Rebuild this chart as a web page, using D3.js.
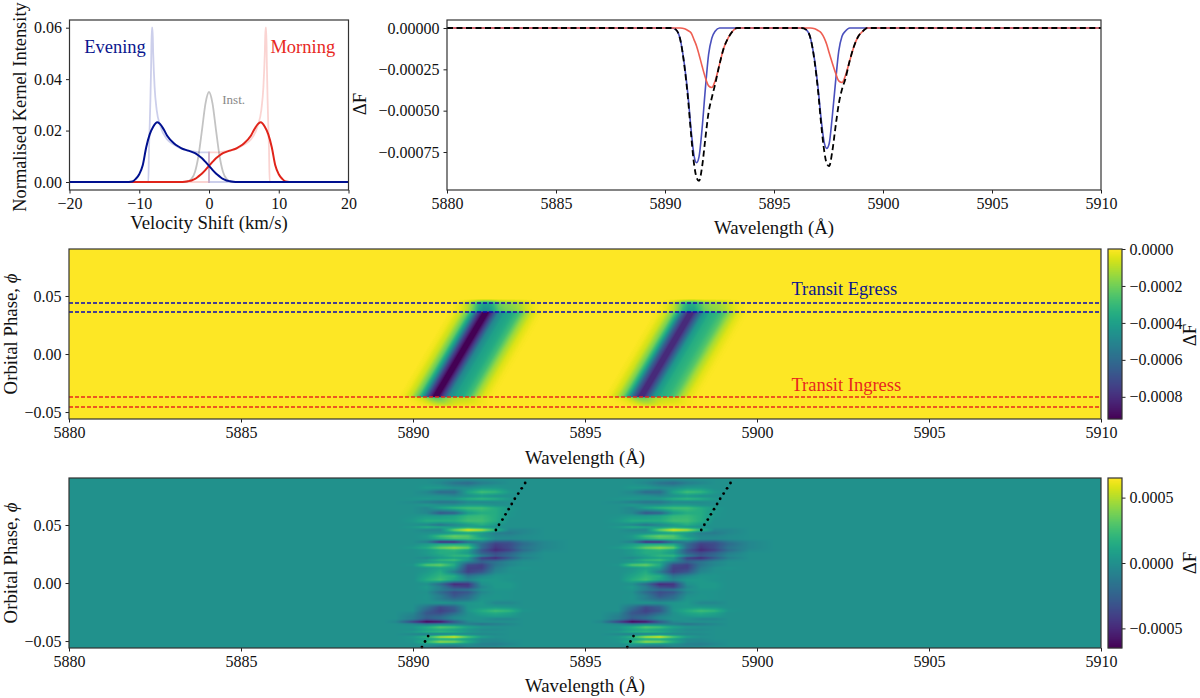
<!DOCTYPE html>
<html>
<head>
<meta charset="utf-8">
<script src="https://d3js.org/d3.v7.min.js"></script>
<style>
  html, body { margin: 0; padding: 0; background: #fff; }
  svg { display: block; font-family: "Liberation Serif", serif; }
  .tick text { font-family: "Liberation Serif", serif; font-size: 16px; fill: #111; }
  .tick line { stroke: #222; }
  .frame { fill: none; stroke: #333; stroke-width: 1.2; }
  .label { font-size: 18.8px; fill: #111; }
</style>
</head>
<body>
<div id="chart"></div>
<script>
// kernel panel
const inst_v = [-20, -3.5, -3, -2.5, -2, -1.5, -1, -0.5, 0, 0.5, 1, 1.5, 2, 2.5, 3, 3.5, 20];
const inst_i = [0, 0, 0.0003, 0.0012, 0.004, 0.0103, 0.0203, 0.0306, 0.035, 0.0306, 0.0203, 0.0103, 0.004, 0.0012, 0.0003, 0, 0];
const evening_kernel_v = [-20, -8.7, -8.6, -8.5, -8.4, -8.3, -8.2, -8.1, -8, -7.8, -7.5, -7, -6, -5, -4, -3, -2, -1, 0, 0, 20];
const evening_kernel_i = [0, 0, 0.013, 0.022, 0.032, 0.045, 0.06, 0.06, 0.05, 0.037, 0.028, 0.022, 0.0165, 0.0145, 0.013, 0.0123, 0.0118, 0.0115, 0.0115, 0, 0];
const morning_kernel_v = [-20, 0, 0, 1, 2, 3, 4, 5, 6, 7, 7.5, 7.8, 8, 8.1, 8.2, 8.3, 8.4, 8.5, 8.6, 8.7, 20];
const morning_kernel_i = [0, 0, 0.0115, 0.0115, 0.0118, 0.0123, 0.013, 0.0145, 0.0165, 0.022, 0.028, 0.037, 0.05, 0.06, 0.06, 0.045, 0.032, 0.022, 0.013, 0, 0];
const evening_v = [-20, -12, -11, -10.5, -10, -9.5, -9, -8.5, -8, -7.4, -7, -6.5, -6, -5, -4.5, -4, -3, -2, -1.5, -1, -0.5, 0, 0.5, 1, 1.5, 2, 2.5, 3, 3.5, 4, 20];
const evening_i = [0, 0, 0.0002, 0.0012, 0.003, 0.0065, 0.0135, 0.0185, 0.0215, 0.0232, 0.0225, 0.0205, 0.018, 0.015, 0.014, 0.0132, 0.0122, 0.0112, 0.0103, 0.0092, 0.0078, 0.0063, 0.0047, 0.0033, 0.0022, 0.0012, 0.0006, 0.0003, 0.0001, 0, 0];
const morning_v = [-20, -4, -3.5, -3, -2.5, -2, -1.5, -1, -0.5, 0, 0.5, 1, 1.5, 2, 3, 4, 4.5, 5, 6, 6.5, 7, 7.4, 8, 8.5, 9, 9.5, 10, 10.5, 11, 12, 20];
const morning_i = [0, 0, 0.0001, 0.0003, 0.0006, 0.0012, 0.0022, 0.0033, 0.0047, 0.0063, 0.0078, 0.0092, 0.0103, 0.0112, 0.0122, 0.0132, 0.014, 0.015, 0.018, 0.0205, 0.0225, 0.0232, 0.0215, 0.0185, 0.0135, 0.0065, 0.003, 0.0012, 0.0002, 0, 0];

// line profile panel
const wave = [5880, 5890.3, 5890.5, 5890.7, 5890.9, 5891.05, 5891.2, 5891.33, 5891.45, 5891.56, 5891.7, 5891.85, 5892, 5892.15, 5892.3, 5892.5, 5892.7, 5892.9, 5893.1, 5893.3,
  5896.27, 5896.47, 5896.67, 5896.87, 5897.02, 5897.17, 5897.3, 5897.42, 5897.53, 5897.67, 5897.82, 5897.97, 5898.12, 5898.27, 5898.47, 5898.67, 5898.87, 5899.07, 5899.27, 5910];
const flux_evening = [0, 0, -0.00001, -0.00007, -0.00023, -0.0004, -0.00062, -0.00077, -0.000815, -0.00078, -0.00061, -0.00037, -0.00016, -0.00006, -0.00002, 0, 0, 0, 0, 0,
  0, -0.00001, -0.00006, -0.0002, -0.00036, -0.00056, -0.00069, -0.000728, -0.0007, -0.00054, -0.00033, -0.00014, -0.00005, -0.00002, 0, 0, 0, 0, 0, 0];
const flux_morning = [0, 0, 0, 0, -0.000005, -0.000015, -0.00003, -0.00007, -0.00011, -0.00016, -0.00023, -0.0003, -0.00035, -0.00036, -0.00032, -0.00022, -0.00012, -0.00006, -0.00002, 0,
  0, 0, 0, -0.000005, -0.000015, -0.00003, -0.00006, -0.0001, -0.00015, -0.00021, -0.00027, -0.00032, -0.00033, -0.00029, -0.0002, -0.00011, -0.00005, -0.00002, 0, 0];
const flux_total = [0, 0, -0.00001, -0.00007, -0.00024, -0.00042, -0.00065, -0.00082, -0.000905, -0.000925, -0.00084, -0.00067, -0.00051, -0.00042, -0.00034, -0.00022, -0.00012, -0.00006, -0.00002, 0,
  0, -0.00001, -0.00006, -0.00021, -0.00038, -0.00059, -0.00074, -0.00082, -0.000835, -0.00075, -0.0006, -0.00046, -0.00037, -0.00031, -0.0002, -0.00011, -0.00005, -0.00002, 0, 0];

// model map: row profile around the moving line centre
const profile_offset = [-1.1, -0.9, -0.7, -0.5, -0.35, -0.2, -0.05, 0.1, 0.25, 0.4, 0.6, 0.8, 1, 1.2, 1.4, 1.6, 1.8];
const profile_flux = [0, -0.00002, -0.00008, -0.00022, -0.00042, -0.00072, -0.00092, -0.00092, -0.00072, -0.0005, -0.0004, -0.00036, -0.00028, -0.00014, -0.00005, -0.00001, 0];
const track_phase = [-0.046, -0.0365, 0.036, 0.048];
const track_d1 = [5890.9, 5890.64, 5892.09, 5892.1];
const track_d2 = [5896.87, 5896.61, 5898.06, 5898.07];
const d2_strength = 0.88;
const depth_phase = [-0.056, -0.0462, -0.044, -0.0376, -0.0368, 0.0362, 0.0372, 0.0435, 0.0475, 0.09];
const depth_scale = [0, 0, 0.08, 0.25, 1, 1, 0.5, 0.42, 0, 0];
const egress_phase = [0.044, 0.0362];
const ingress_phase = [-0.0371, -0.0457];

// residual map, values in units of 1e-4, D2 repeats the D1 pattern
const residual_wave = [5889.5, 5890, 5890.4, 5890.8, 5891.2, 5891.6, 5892, 5892.4, 5892.8, 5893.2, 5893.8];
const d2_shift = 5.97;
const residual_phase = [0.0897, 0.0862, 0.0819, 0.0784, 0.075, 0.0724, 0.0698, 0.0672, 0.0647, 0.0603, 0.0578, 0.0534, 0.05, 0.0483, 0.0457, 0.0431, 0.0405, 0.0379, 0.0353, 0.0336,
  0.0302, 0.0284, 0.0259, 0.0233, 0.0216, 0.0198, 0.0181, 0.0155, 0.0129, 0.0095, 0.006, 0.0026, -0.0009, -0.0034, -0.006, -0.0078, -0.0112, -0.0138, -0.0172, -0.0207,
  -0.0241, -0.0259, -0.0293, -0.031, -0.0336, -0.0353, -0.0379, -0.0405, -0.0422, -0.044, -0.0465, -0.0483, -0.0509, -0.0526, -0.0552];
const residual_rows = [
  [0, 0, 0, 0, 0, 0, 0, 0, 0, 0, 0],
  [0, 0, 0, -0.5, -1.5, -2, -1, -0.5, 0, 0, 0],
  [0, 0, 0.5, 0.5, 0, 0, 0.5, 0.5, 0, 0, 0],
  [0, 0, -0.5, -2, -2, 1, 2.5, 2, 0.5, 0, 0],
  [0, 0, 0, 0, -0.5, 0, 0.5, 0, 0, 0, 0],
  [0, 0.3, 0.5, 0.3, 0.5, 1.5, 2, 1.5, 0.5, 0, 0],
  [0, -0.3, -1, -1.5, -1.5, -0.5, -0.5, -0.3, 0, 0, 0],
  [0, 0, 0.5, 0, 0, 0.5, 0.5, 0, 0, 0, 0],
  [0, 0, -0.5, 1, 2, 2.5, 2.5, 1.5, 0.5, 0, 0],
  [0, 0, -0.5, -3, -2.5, 0.5, 1.5, 1.5, 0.3, 0, 0],
  [0, 0.2, 0.5, 0.5, 1, 2, 2.2, 1.5, 0.3, 0, 0],
  [0, 0.5, 1.5, 1.5, 1.5, 2.5, 2.5, 1.5, 0, 0, 0],
  [0, 0, -0.5, -1.5, -0.5, 0.5, 1.5, 0.5, 0, 0, 0],
  [0, 0.5, 1.5, 1, 0.5, 1, 0.5, 0, 0, 0, 0],
  [0, 0, -0.5, -0.5, 3.5, 6, 5, 2, -0.5, -0.5, 0],
  [0, 0, 0, 0, 0.5, 1, 0.5, -1, -1.2, -0.5, 0],
  [0, 0, 0.5, 2.5, 3.5, 3, 0.5, -0.5, -0.5, -0.2, 0],
  [0, 0, 0.3, 1.5, 2.5, 2.5, 1.5, -0.2, -0.3, -0.2, 0],
  [0, 0, -1, -5, -5, -2, -1, -3, -3, -1.5, -0.5],
  [0, 0, 0.5, 1, 1, 1, -2, -4, -3.5, -2, -0.5],
  [0, 0.5, 1.5, 3.5, 4.5, 3.5, -2, -4.5, -3.5, -1.5, -0.5],
  [0, 0, 0.5, 1.5, 2, 1, -3, -5, -4, -2, -0.3],
  [0, 0, 0.5, 1.5, 1.5, 0.5, -2.5, -3.5, -2.5, -1, 0],
  [0, 0, 0.3, 1, 2, 2, -1, -3, -2, -0.5, 0],
  [0, 0, -0.5, 0.5, 1, 0.5, -4, -5, -3, -1, 0],
  [0, 0, 0.5, 2, 2.5, 0.5, -3, -3, -1.5, -0.3, 0],
  [0, 0, 0.3, 1, 1, -1, -2.5, -1.5, -0.5, 0, 0],
  [0, 0.3, 3, 3.5, 1.5, -3.5, -4, -1.5, -0.5, 0, 0],
  [0, 0, 0.3, 1, 0.5, -4, -4, -1, 0, 0.3, 0],
  [0, 0, 0.5, 1.5, -1, -4, -3, -0.5, 0, 0, 0],
  [0, 0, 1, 2, 1.5, -1.5, -0.5, 0.3, 0.3, 0, 0],
  [0, 0, 1.5, 2.5, 1, -0.5, 0.5, 0.5, 0.2, 0, 0],
  [0, 0, 0, -2, -5, -4.5, 0, 0.5, 0.5, 0, 0],
  [0, 0, 0.5, -1, -3.5, -4, -0.5, 0.5, 0.5, 0, 0],
  [0, 0, 0.3, -1, -2, -1.5, 0, 0.3, 0.3, 0, 0],
  [0, 0, 0, -2, -3.5, -3, -0.5, 0.2, 0.2, 0, 0],
  [0, 0, 0.2, -1, -3, -2, 0, 0.3, 0.2, 0, 0],
  [0, 0, 0.2, -1, -2, -1.5, 0.3, 0.3, 0.2, 0, 0],
  [0, 0, 0, 0.3, 0, 0.3, 0.5, -0.5, -0.5, 0, 0],
  [0, 0, -1.5, -3.5, -2.5, 0.3, 0.5, 0.5, 0.3, 0, 0],
  [0, 0, -2.5, -4, -3, 0.3, 1.5, 2.5, 2, 0.3, 0],
  [0, -0.5, -3, -3.5, -2, 0, 1, 1.5, 1, 0, 0],
  [0, -1, -2.5, -2, -0.5, 0, 0.3, 0.5, 0.3, 0, 0],
  [0, -1, -3, -2, -0.5, 0.2, 0, -0.5, -0.5, 0, 0],
  [-0.5, -4, -6.5, -6, -3, -0.5, 0, 0, 0, 0, 0],
  [0, -0.5, -1.5, -1, -1, -1, -1.5, -1, -0.5, 0, 0],
  [0, 0.3, 1.5, 3, 2.5, 1, 0.3, 0, 0, 0, 0],
  [0, 0, 1, 1.5, 1, 0.3, -0.3, -0.3, 0, 0, 0],
  [0, 0.5, 1.5, 2, 1.5, 0.5, 0, 0, 0, 0, 0],
  [0, -0.5, -1, -1, -0.5, -0.5, -0.5, -0.3, 0, 0, 0],
  [0, 0.5, 2, 5, 6, 3, 0.8, 0, 0, 0, 0],
  [0, 0.3, 0.8, 1.5, 1.5, 0.8, -0.3, -0.3, 0, 0, 0],
  [0, 0.3, 2, 4.5, 4, 1.5, -0.3, -0.5, -0.2, 0, 0],
  [0, 0, 0.5, 0.5, 0.3, 0, -0.8, -1, -0.5, 0, 0],
  [0, 0, -0.5, -1.5, -1.5, -0.5, -0.5, -0.3, 0, 0, 0]
];
const track_top_phase = [0.0457, 0.0502, 0.0547, 0.0592, 0.0636, 0.0681, 0.0726, 0.0771, 0.0816, 0.0862];
const track_top_wave = [5892.41, 5892.5, 5892.6, 5892.69, 5892.78, 5892.87, 5892.96, 5893.06, 5893.16, 5893.26];
const track_low_phase = [-0.0552, -0.0504, -0.0457];
const track_low_wave = [5890.26, 5890.35, 5890.44];

// ticks
const v_ticks = [-20, -10, 0, 10, 20];
const kernel_ticks = [0, 0.02, 0.04, 0.06];
const wave_ticks = [5880, 5885, 5890, 5895, 5900, 5905, 5910];
const flux_ticks = [0, -0.00025, -0.0005, -0.00075];
const phase_ticks = [-0.05, 0, 0.05];
const model_cb_ticks = [0, -0.0002, -0.0004, -0.0006, -0.0008];
const resid_cb_ticks = [-0.0005, 0, 0.0005];

const width = 1200;
const height = 698;
const svg = d3.select('#chart').append('svg').attr('width', width).attr('height', height);

function addPanel(x0, x1, y0, y1) {
  return svg.append('g').attr('transform', 'translate(' + x0 + ',' + y0 + ')')
    .datum({ w: x1 - x0, h: y1 - y0 });
}

function addAxes(g, x, y, xTicks, yTicks, xFmt, yFmt) {
  const d = g.datum();
  g.append('g').attr('transform', 'translate(0,' + d.h + ')')
    .call(d3.axisBottom(x).tickValues(xTicks).tickFormat(xFmt).tickSizeOuter(0).tickSize(3.5).tickPadding(4));
  g.append('g')
    .call(d3.axisLeft(y).tickValues(yTicks).tickFormat(yFmt).tickSizeOuter(0).tickSize(3.5).tickPadding(4));
  g.selectAll('.domain').remove();
  g.append('rect').attr('class', 'frame').attr('width', d.w).attr('height', d.h);
}

function addClip(g, id) {
  const d = g.datum();
  svg.append('clipPath').attr('id', id).append('rect').attr('width', d.w).attr('height', d.h);
  return g.append('g').attr('clip-path', 'url(#' + id + ')');
}

function rotLabel(txt, x, y, parent) {
  return (parent || svg).append('text').attr('class', 'label')
    .attr('transform', 'translate(' + x + ',' + y + ') rotate(-90)')
    .attr('text-anchor', 'middle').text(txt);
}

function xLabel(txt, x, y) {
  svg.append('text').attr('class', 'label').attr('x', x).attr('y', y).attr('text-anchor', 'middle').text(txt);
}

function phaseLabel(y) {
  const t = rotLabel('Orbital Phase, ', 17, y);
  t.append('tspan').attr('font-style', 'italic').text('\u03d5');
}

// pixels of a map, colour comes from the scale
function drawMap(g, x, y, color, valueAt) {
  const d = g.datum();
  const canvas = document.createElement('canvas');
  canvas.width = d.w;
  canvas.height = d.h;
  const ctx = canvas.getContext('2d');
  for (let py = 0; py < d.h; py++) {
    const phase = y.invert(py + 0.5);
    for (let px = 0; px < d.w; px++) {
      ctx.fillStyle = color(valueAt(x.invert(px + 0.5), phase));
      ctx.fillRect(px, py, 1, 1);
    }
  }
  g.append('image').attr('width', d.w).attr('height', d.h)
    .attr('href', canvas.toDataURL('image/png'));
}

function addColorbar(x0, y0, y1, color, ticks, labelY) {
  const cbW = 14;
  const cy = d3.scaleLinear().domain(color.domain()).range([y1 - y0, 0]);
  const g = svg.append('g').attr('transform', 'translate(' + x0 + ',' + y0 + ')');
  g.selectAll('rect.cell').data(d3.range(0, y1 - y0)).enter().append('rect')
    .attr('class', 'cell').attr('x', 0).attr('y', d => d).attr('width', cbW).attr('height', 1.2)
    .attr('fill', d => color(cy.invert(d + 0.5)));
  const ax = g.append('g').attr('transform', 'translate(' + cbW + ',0)')
    .call(d3.axisRight(cy).tickValues(ticks).tickFormat(d3.format('.4f')).tickSizeOuter(0).tickSize(3.5).tickPadding(4));
  ax.select('.domain').remove();
  g.append('rect').attr('class', 'frame').attr('width', cbW).attr('height', y1 - y0);
  rotLabel('\u0394F', 1196, labelY);
}

// kernels
const kp = addPanel(69.5, 348.5, 20, 190);
const kx = d3.scaleLinear().domain([-20, 20]).range([0, 279]);
const ky = d3.scaleLinear().domain([0, 0.06]).range([162, 7.7]);
const kc = addClip(kp, 'kclip');
function kernelLine(vs, is, stroke, op, sw) {
  const line = d3.line().x((d, i) => kx(vs[i])).y((d, i) => ky(is[i])).curve(d3.curveMonotoneX);
  kc.append('path').attr('d', line(is)).attr('fill', 'none').attr('stroke', stroke)
    .attr('stroke-opacity', op).attr('stroke-width', sw);
}
kernelLine(inst_v, inst_i, '#888', 0.5, 1.8);
kernelLine(morning_kernel_v, morning_kernel_i, '#e8281e', 0.2, 1.8);
kernelLine(evening_kernel_v, evening_kernel_i, '#00109a', 0.2, 1.8);
kernelLine(morning_v, morning_i, '#e0241a', 1, 2);
kernelLine(evening_v, evening_i, '#00108f', 1, 2);
addAxes(kp, kx, ky, v_ticks, kernel_ticks, d3.format('d'), d3.format('.2f'));
kp.append('text').attr('x', kx(-17.9)).attr('y', 33).attr('font-size', 18.5).attr('fill', '#0a168e').text('Evening');
kp.append('text').attr('x', kx(8.8)).attr('y', 33).attr('font-size', 18.5).attr('fill', '#e8281e').text('Morning');
kp.append('text').attr('x', kx(1.9)).attr('y', 84).attr('font-size', 13).attr('fill', '#888').text('Inst.');
rotLabel('Normalised Kernel Intensity', 26, 107).style('font-size', '18.4px');
xLabel('Velocity Shift (km/s)', 209, 229);

// profiles
const pp = addPanel(447, 1101, 20, 190);
const px = d3.scaleLinear().domain([5880, 5910]).range([0, 654]);
const py = d3.scaleLinear().domain([0, -0.00075]).range([8, 132]);
const pc = addClip(pp, 'pclip');
function profileLine(vals, stroke, sw, dash) {
  const line = d3.line().x((d, i) => px(wave[i])).y(d => py(d)).curve(d3.curveMonotoneX);
  pc.append('path').attr('d', line(vals)).attr('fill', 'none').attr('stroke', stroke)
    .attr('stroke-width', sw).attr('stroke-dasharray', dash);
}
profileLine(flux_evening, '#4a50bd', 1.6, null);
profileLine(flux_morning, '#ee5e52', 1.6, null);
profileLine(flux_total, '#000', 1.8, '6,3.5');
addAxes(pp, px, py, wave_ticks, flux_ticks, d3.format('d'), d3.format('.5f'));
rotLabel('\u0394F', 366, 104);
xLabel('Wavelength (\u00c5)', 774, 234);

// model map
const mp = addPanel(69, 1101, 249, 419);
const mx = d3.scaleLinear().domain([5880, 5910]).range([0, 1032]);
const my = d3.scaleLinear().domain([0.0905, -0.056]).range([0, 170]);
const modelColor = d3.scaleSequential(d3.interpolateViridis).domain([-0.00092, 0]);
const profileAt = d3.scaleLinear().domain(profile_offset).range(profile_flux).clamp(true);
const depthAt = d3.scaleLinear().domain(depth_phase).range(depth_scale).clamp(true);
const d1At = d3.scaleLinear().domain(track_phase).range(track_d1).clamp(true);
const d2At = d3.scaleLinear().domain(track_phase).range(track_d2).clamp(true);
drawMap(mp, mx, my, modelColor, (w, ph) => depthAt(ph) *
  (profileAt(w - d1At(ph)) + d2_strength * profileAt(w - d2At(ph))));
egress_phase.forEach(ph => {
  mp.append('line').attr('x2', 1032).attr('y1', my(ph)).attr('y2', my(ph))
    .attr('stroke', '#0a0ab4').attr('stroke-width', 1.5).attr('stroke-dasharray', '4,2');
});
ingress_phase.forEach(ph => {
  mp.append('line').attr('x2', 1032).attr('y1', my(ph)).attr('y2', my(ph))
    .attr('stroke', '#e8281e').attr('stroke-width', 1.5).attr('stroke-dasharray', '4,2');
});
addAxes(mp, mx, my, wave_ticks, phase_ticks, d3.format('d'), d3.format('.2f'));
mp.append('text').attr('x', mx(5901)).attr('y', 46).attr('font-size', 18.5).attr('fill', '#0a168e').text('Transit Egress');
mp.append('text').attr('x', mx(5901)).attr('y', 142).attr('font-size', 18.5).attr('fill', '#e8281e').text('Transit Ingress');
phaseLabel(334);
xLabel('Wavelength (\u00c5)', 585, 464);
addColorbar(1108, 249, 419, modelColor, model_cb_ticks, 335);

// residual map
const rp = addPanel(69, 1101, 478, 648);
const rx = d3.scaleLinear().domain([5880, 5910]).range([0, 1032]);
const ry = d3.scaleLinear().domain([0.0905, -0.056]).range([0, 170]);
const residColor = d3.scaleSequential(d3.interpolateViridis).domain([-0.00065, 0.00065]);
const rowIndex = d3.scaleLinear().domain(residual_phase).range(d3.range(residual_phase.length)).clamp(true);
const rowScales = residual_rows.map(row => d3.scaleLinear()
  .domain([5889.2].concat(residual_wave, [5894.5])).range([0].concat(row, [0])).clamp(true));
function residualAt(w, ph) {
  const idx = rowIndex(ph);
  const lo = Math.floor(idx);
  const hi = Math.min(lo + 1, rowScales.length - 1);
  const a = rowScales[lo](w);
  const b = rowScales[hi](w);
  return (a + (b - a) * (idx - lo)) * 1e-4;
}
drawMap(rp, rx, ry, residColor, (w, ph) => residualAt(w, ph) + residualAt(w - d2_shift, ph));
function addTrack(phases, waves, shift) {
  rp.selectAll(null).data(phases).enter().append('circle')
    .attr('cx', (d, i) => rx(waves[i] + shift)).attr('cy', d => ry(d)).attr('r', 1.4).attr('fill', '#000');
}
addTrack(track_top_phase, track_top_wave, 0);
addTrack(track_top_phase, track_top_wave, d2_shift);
addTrack(track_low_phase, track_low_wave, 0);
addTrack(track_low_phase, track_low_wave, d2_shift);
addAxes(rp, rx, ry, wave_ticks, phase_ticks, d3.format('d'), d3.format('.2f'));
phaseLabel(563);
xLabel('Wavelength (\u00c5)', 585, 692);
addColorbar(1108, 478, 648, residColor, resid_cb_ticks, 563);
</script>
</body>
</html>
